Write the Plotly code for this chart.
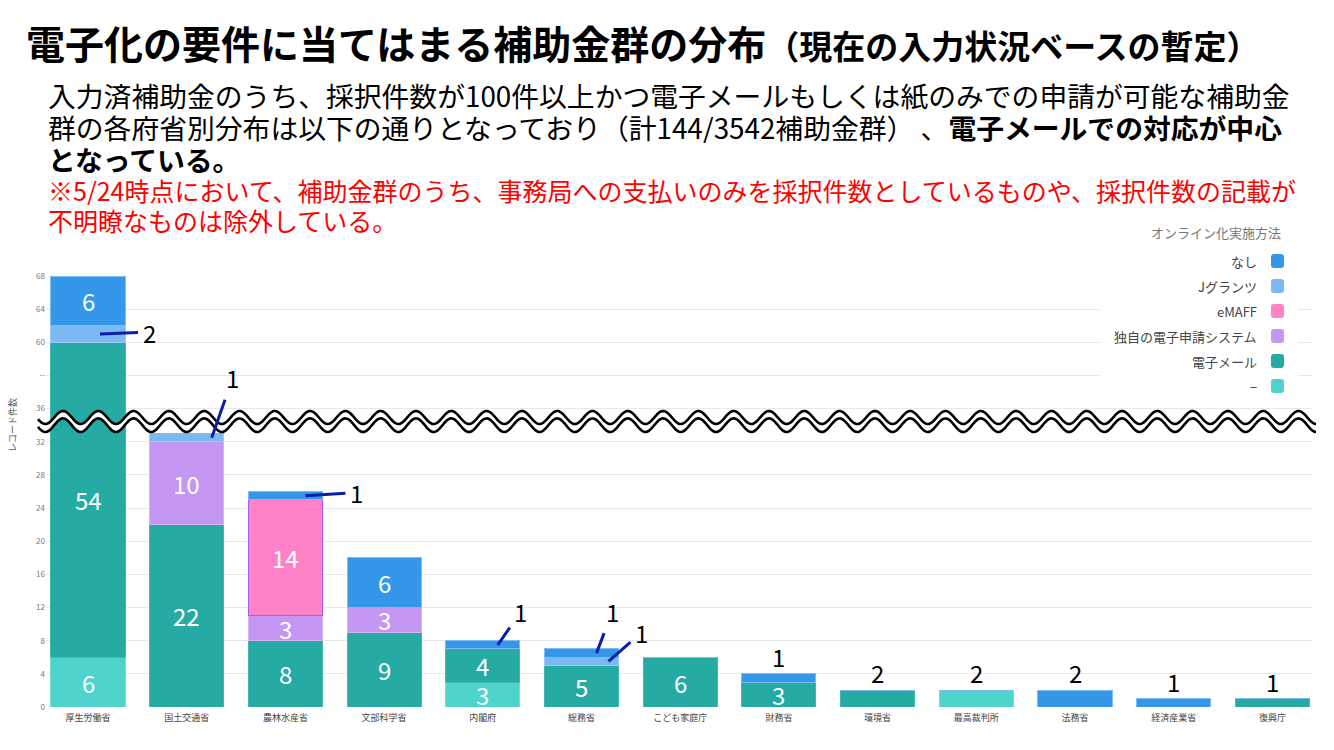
import numpy as np
import plotly.graph_objects as go

# ---------------- data ----------------
categories = ["厚生労働省", "国土交通省", "農林水産省", "文部科学省", "内閣府", "総務省",
              "こども家庭庁", "財務省", "環境省", "最高裁判所", "法務省", "経済産業省", "復興庁"]

# stack order: bottom -> top
dash_vals    = [6, 0, 0, 0, 3, 0, 0, 0, 0, 2, 0, 0, 0]     # −
email_vals   = [54, 22, 8, 9, 4, 5, 6, 3, 2, 0, 0, 0, 1]   # 電子メール
own_vals     = [0, 10, 3, 3, 0, 0, 0, 0, 0, 0, 0, 0, 0]    # 独自の電子申請システム
emaff_vals   = [0, 0, 14, 0, 0, 0, 0, 0, 0, 0, 0, 0, 0]    # eMAFF
jgrants_vals = [2, 1, 0, 0, 0, 1, 0, 0, 0, 0, 0, 0, 0]     # Jグランツ
nashi_vals   = [6, 0, 1, 6, 1, 1, 0, 1, 0, 0, 2, 1, 0]     # なし

series_names = ["−", "電子メール", "独自の電子申請システム", "eMAFF", "Jグランツ", "なし"]
series_vals = [dash_vals, email_vals, own_vals, emaff_vals, jgrants_vals, nashi_vals]

y_tick_labels = ["0", "4", "8", "12", "16", "20", "24", "28", "32", "36", "--", "60", "64", "68"]

title_main = "電子化の要件に当てはまる補助金群の分布"
title_sub = "（現在の入力状況ベースの暫定）"
body_lines = [
    "入力済補助金のうち、採択件数が100件以上かつ電子メールもしくは紙のみでの申請が可能な補助金",
    "群の各府省別分布は以下の通りとなっており（計144/3542補助金群） 、<b>電子メールでの対応が中心</b>",
    "<b>となっている。</b>",
]
note_lines = [
    "※5/24時点において、補助金群のうち、事務局への支払いのみを採択件数としているものや、採択件数の記載が",
    "不明瞭なものは除外している。",
]
legend_title = "オンライン化実施方法"

# ---------------- styles ----------------
colors = {"−": "#4FD4CD", "電子メール": "#26ABA4", "独自の電子申請システム": "#C397F2",
          "eMAFF": "#FF82C8", "Jグランツ": "#7BB9F2", "なし": "#3497EA"}
edge_colors = {"−": "#7ADDD7", "電子メール": "#45B8B1", "独自の電子申請システム": "#D4B4F6",
               "eMAFF": "#A65EF2", "Jグランツ": "#9ECBF5", "なし": "#7DBDF3"}
FONT = "Noto Sans CJK JP"

W, H = 1334, 750
L, R, T, B = 46, 1312, 276, 707          # plot area in pixels
CAT_W = 98.7                              # pixels per category
X0_CENTER = 88                            # pixel centre of first category
Y_MAX_DISPLAY = 52

BREAK_LO, BREAK_SKIP = 40, 16             # axis break: actual (40, 56] collapsed


def f(v):
    if v <= BREAK_LO:
        return v
    if v <= BREAK_LO + BREAK_SKIP:
        return BREAK_LO
    return v - BREAK_SKIP


def px_x(x):
    return (x - L) / (R - L)


def px_y(y):
    return (B - y) / (B - T)


# ---------------- bars ----------------
n = len(categories)
cum = [0] * n
seg = {}  # (series, cat index) -> (display bottom, display top, actual value)
fig = go.Figure()
for name, vals in zip(series_names, series_vals):
    disp = []
    for i, v in enumerate(vals):
        b0, b1 = cum[i], cum[i] + v
        d0, d1 = f(b0), f(b1)
        disp.append(d1 - d0)
        if v > 0:
            seg[(name, i)] = (d0, d1, v)
        cum[i] = b1
    fig.add_trace(go.Bar(
        x=categories, y=disp, name=name, width=0.75,
        marker=dict(color=colors[name], line=dict(color=edge_colors[name], width=1)),
        customdata=vals, hovertemplate="%{x}<br>" + name + ": %{customdata}<extra></extra>",
        showlegend=False,
    ))

annotations = []
shapes = []

# callouts for thin segments: (series, category index, tip dx px, text dx px, text dy px)
callouts = [
    ("Jグランツ", 0, 12, 49, -2),
    ("Jグランツ", 1, 25, 21, -60),
    ("なし", 2, 20, 51, -3),
    ("なし", 4, 15, 23, -33),
    ("なし", 5, 15, 16, -42),
    ("Jグランツ", 5, 27, 33, -29),
]
callout_keys = {(c[0], c[1]) for c in callouts}

for (name, i), (d0, d1, v) in seg.items():
    if v >= 3:
        annotations.append(dict(x=i, y=(d0 + d1) / 2, xref="x", yref="y", text=str(v),
                                showarrow=False, font=dict(family=FONT, size=24, color="white"),
                                xanchor="center", yanchor="middle"))
    elif (name, i) not in callout_keys:
        annotations.append(dict(x=i, y=d1, xref="x", yref="y", text=str(v),
                                showarrow=False, font=dict(family=FONT, size=24, color="black"),
                                xanchor="center", yanchor="bottom", yshift=-2))

for name, i, tdx, ax, ay in callouts:
    d0, d1, v = seg[(name, i)]
    annotations.append(dict(x=i + tdx / CAT_W, y=(d0 + d1) / 2, xref="x", yref="y", text=str(v),
                            showarrow=True, arrowhead=0, arrowwidth=3, arrowcolor="#0A1EAA",
                            ax=ax, ay=ay, borderpad=4, standoff=0,
                            font=dict(family=FONT, size=24, color="black")))

# ---------------- axis-break wave ----------------
xs = np.arange(38, 1317, 1.0)
phase = 2 * np.pi * (xs - 63) / 35.3
upper = 417.5 - 6.5 * np.cos(phase)
lower = 425.2 - 6.8 * np.cos(phase)


def path_from(xp, yp, close=False):
    pts = [f"{px_x(a):.5f},{px_y(b):.5f}" for a, b in zip(xp, yp)]
    p = "M" + " L".join(pts)
    return p + " Z" if close else p


shapes.append(dict(type="path", xref="paper", yref="paper", layer="above",
                   path=path_from(np.concatenate([xs, xs[::-1]]), np.concatenate([upper, lower[::-1]]), True),
                   fillcolor="white", line=dict(width=0)))
for yy in (upper, lower):
    shapes.append(dict(type="path", xref="paper", yref="paper", layer="above",
                       path=path_from(xs, yy), line=dict(color="black", width=2.6)))

# ---------------- custom legend ----------------
shapes.append(dict(type="rect", xref="paper", yref="paper", layer="above",
                   x0=px_x(1100), x1=px_x(1298), y0=px_y(400), y1=px_y(245),
                   fillcolor="white", line=dict(width=0)))


def rounded_rect(x0, y0, x1, y1, r):
    rx, ry = r / (R - L), r / (B - T)
    X0, X1, Y0, Y1 = px_x(x0), px_x(x1), px_y(y1), px_y(y0)
    return (f"M{X0+rx},{Y0} L{X1-rx},{Y0} Q{X1},{Y0} {X1},{Y0+ry} L{X1},{Y1-ry} "
            f"Q{X1},{Y1} {X1-rx},{Y1} L{X0+rx},{Y1} Q{X0},{Y1} {X0},{Y1-ry} "
            f"L{X0},{Y0+ry} Q{X0},{Y0} {X0+rx},{Y0} Z")


annotations.append(dict(x=px_x(1283), y=px_y(232), xref="paper", yref="paper", text=legend_title,
                        showarrow=False, xanchor="right", yanchor="middle",
                        font=dict(family=FONT, size=13, color="#777777")))
for k, name in enumerate(series_names[::-1]):
    yc = 261 + k * 25
    shapes.append(dict(type="path", xref="paper", yref="paper", layer="above",
                       path=rounded_rect(1271, yc - 7, 1284, yc + 7, 3),
                       fillcolor=colors[name], line=dict(width=0)))
    annotations.append(dict(x=px_x(1259), y=px_y(yc), xref="paper", yref="paper", text=name,
                            showarrow=False, xanchor="right", yanchor="middle",
                            font=dict(family=FONT, size=13, color="#444444")))

# ---------------- titles / text ----------------
annotations.append(dict(x=px_x(24), y=px_y(42), xref="paper", yref="paper",
                        text=f"<b>{title_main}<span style='font-size:33px'>{title_sub}</span></b>",
                        showarrow=False, xanchor="left", yanchor="middle",
                        font=dict(family=FONT, size=39, color="black")))
for k, line in enumerate(body_lines):
    annotations.append(dict(x=px_x(47), y=px_y(95 + 32 * k), xref="paper", yref="paper", text=line,
                            showarrow=False, xanchor="left", yanchor="middle", borderpad=0,
                            height=32, valign="middle",
                            font=dict(family=FONT, size=27.8, color="black")))
for k, line in enumerate(note_lines):
    annotations.append(dict(x=px_x(47), y=px_y(190 + 30 * k), xref="paper", yref="paper", text=line,
                            showarrow=False, xanchor="left", yanchor="middle", borderpad=0,
                            height=30, valign="middle",
                            font=dict(family=FONT, size=25, color="#FF0000")))
annotations.append(dict(x=px_x(12), y=px_y(425), xref="paper", yref="paper", text="レコード件数",
                        showarrow=False, textangle=-90, xanchor="center", yanchor="middle",
                        font=dict(family=FONT, size=9, color="#555555")))

x_lo = -(X0_CENTER - L) / CAT_W
x_hi = x_lo + (R - L) / CAT_W

fig.update_layout(
    width=W, height=H, autosize=False,
    margin=dict(l=L, r=W - R, t=T, b=H - B, pad=0),
    barmode="stack", bargap=0.25,
    plot_bgcolor="white", paper_bgcolor="white",
    font=dict(family=FONT),
    xaxis=dict(range=[x_lo, x_hi], tickfont=dict(size=9, color="#444444"),
               showgrid=False, showline=False, ticks="", ticklabelstandoff=4),
    yaxis=dict(range=[0, Y_MAX_DISPLAY], tickvals=list(range(0, Y_MAX_DISPLAY + 1, 4)),
               ticktext=y_tick_labels, tickfont=dict(size=8, color="#777777"),
               showgrid=True, gridcolor="#E6EAF0", gridwidth=1, zeroline=False, ticks=""),
    annotations=annotations, shapes=shapes,
    showlegend=False,
)

fig.write_html("out.html")
